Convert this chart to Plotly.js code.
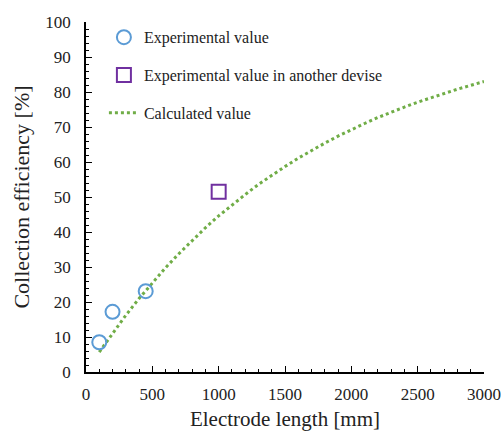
<!DOCTYPE html>
<html><head><meta charset="utf-8">
<script src="https://cdn.plot.ly/plotly-3.0.1.min.js"></script>
<style>
body{margin:0;background:#fff}
#c{width:502px;height:431px}
#c svg text{font-family:'Liberation Serif' !important;}
</style>
</head><body><div id="c"></div>
<script>
const expX = [100, 200, 450];
const expY = [8.5, 17.2, 23.1];
const otherX = [1000];
const otherY = [51.5];
const calcX = [100,200,300,400,500,600,700,800,900,1000,1100,1200,1300,1400,1500,1600,1700,1800,1900,2000,2100,2200,2300,2400,2500,2600,2700,2800,2900,3000];
const calcY = [5.7,11.1,16.2,21.0,25.5,29.8,33.8,37.6,41.2,44.6,47.7,50.7,53.6,56.2,58.7,61.1,63.3,65.4,67.4,69.3,71.0,72.7,74.3,75.7,77.1,78.4,79.7,80.8,81.9,83.0];
const names = ["Experimental value", "Experimental value in another devise", "Calculated value"];

const data = [
  {x: calcX, y: calcY, type: 'scatter', mode: 'lines', name: names[2], legendgroup: 'c', legendrank: 3,
   line: {color: '#70AD47', width: 3, dash: 'dot'}},
  {x: expX, y: expY, type: 'scatter', mode: 'markers', name: names[0], legendgroup: 'a', legendrank: 1,
   marker: {symbol: 'circle-open', size: 14, color: '#5B9BD5', line: {width: 2, color: '#5B9BD5'}}},
  {x: otherX, y: otherY, type: 'scatter', mode: 'markers', name: names[1], legendgroup: 'b', legendrank: 2,
   marker: {symbol: 'square-open', size: 14, color: '#7030A0', line: {width: 2, color: '#7030A0'}}}
];
const layout = {
  width: 502, height: 431,
  margin: {l: 86, r: 18, t: 22, b: 59},
  paper_bgcolor: '#fff', plot_bgcolor: '#fff',
  font: {family: 'Liberation Serif', size: 16, color: '#222'},
  showlegend: true,
  legend: {x: 0.045, y: 1.005, xanchor: 'left', yanchor: 'top', traceorder: 'grouped', tracegroupgap: 14,
           bgcolor: 'rgba(0,0,0,0)', font: {family: 'Liberation Serif', size: 16}, itemwidth: 30},
  xaxis: {range: [0, 3000], dtick: 500, showgrid: false, zeroline: false, showline: true, linecolor: '#000', linewidth: 1.5,
          ticks: 'inside', ticklen: 6, tickcolor: '#000', tickwidth: 1, ticklabelstandoff: 6,
          minor: {dtick: 100, ticks: 'inside', ticklen: 3, tickcolor: '#000', showgrid: false},
          tickfont: {family: 'Liberation Serif', size: 17},
          title: {text: 'Electrode length [mm]', font: {size: 21}, standoff: 8}},
  yaxis: {range: [0, 100], dtick: 10, showgrid: false, zeroline: false, showline: true, linecolor: '#000', linewidth: 1.5,
          ticks: 'inside', ticklen: 6, tickcolor: '#000', tickwidth: 1, ticklabelstandoff: 10,
          minor: {dtick: 2, ticks: 'inside', ticklen: 3, tickcolor: '#000', showgrid: false},
          tickfont: {family: 'Liberation Serif', size: 17},
          title: {text: 'Collection efficiency [%]', font: {size: 22}, standoff: 10}}
};
Plotly.newPlot('c', data, layout, {displayModeBar: false});
</script>
</body></html>
